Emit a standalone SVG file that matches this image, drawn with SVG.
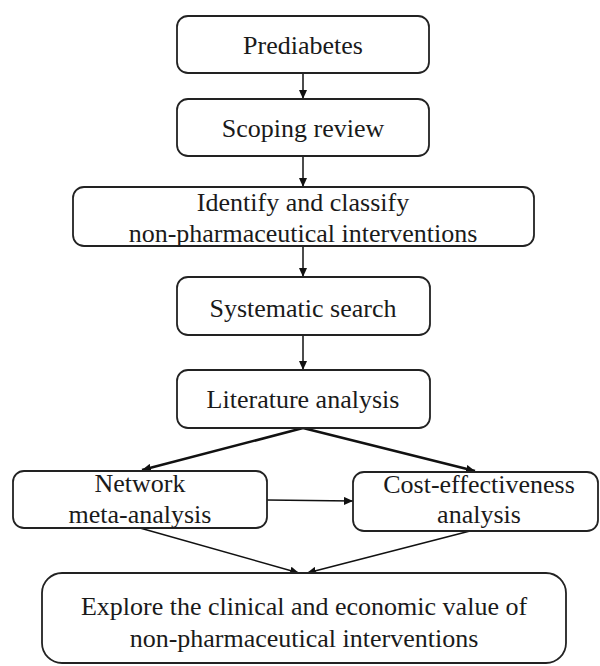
<svg xmlns="http://www.w3.org/2000/svg" width="600" height="666" viewBox="0 0 600 666">
<style>
.box{fill:#fff;stroke:#222;stroke-width:1.8}
.t{font-family:"Liberation Serif","Times New Roman",serif;font-size:26px;fill:#1a1a1a;text-anchor:middle}
.c{stroke:#111;stroke-width:1.5;fill:none}
.ct{stroke:#111;stroke-width:2.6;fill:none}
</style>
<defs>
<marker id="ah" markerUnits="userSpaceOnUse" markerWidth="10" markerHeight="8" refX="9" refY="4" orient="auto">
<path d="M0,0 L9,4 L0,8 Z" fill="#111"/>
</marker>
</defs>
<rect width="600" height="666" fill="#fff"/>
<g id="connectors">
<line class="c" x1="303" y1="73" x2="303" y2="99" marker-end="url(#ah)"/>
<line class="c" x1="303" y1="156" x2="303" y2="187" marker-end="url(#ah)"/>
<line class="c" x1="303" y1="246" x2="303" y2="277" marker-end="url(#ah)"/>
<line class="c" x1="303" y1="335" x2="303" y2="370" marker-end="url(#ah)"/>
<line class="ct" x1="303" y1="428" x2="142" y2="470" marker-end="url(#ah)"/>
<line class="ct" x1="303" y1="428" x2="475" y2="471" marker-end="url(#ah)"/>
<line class="c" x1="267" y1="500" x2="353" y2="501" marker-end="url(#ah)"/>
<line class="c" x1="140" y1="528" x2="299" y2="573" marker-end="url(#ah)"/>
<line class="c" x1="470" y1="531" x2="307" y2="573" marker-end="url(#ah)"/>
</g>
<g id="n1"><rect class="box" x="177" y="16" width="252" height="57" rx="11"/><text class="t" x="303" y="54">Prediabetes</text></g>
<g id="n2"><rect class="box" x="177" y="99" width="252" height="57" rx="11"/><text class="t" x="303" y="137">Scoping review</text></g>
<g id="n3"><rect class="box" x="73" y="187" width="461" height="59" rx="11"/><text class="t" x="303" y="211">Identify and classify</text><text class="t" x="303" y="242">non-pharmaceutical interventions</text></g>
<g id="n4"><rect class="box" x="177" y="277" width="253" height="58" rx="11"/><text class="t" x="303" y="317">Systematic search</text></g>
<g id="n5"><rect class="box" x="177" y="370" width="253" height="58" rx="11"/><text class="t" x="303" y="408">Literature analysis</text></g>
<g id="n6"><rect class="box" x="13" y="471" width="254" height="57" rx="11"/><text class="t" x="140" y="492">Network</text><text class="t" x="140" y="523">meta-analysis</text></g>
<g id="n7"><rect class="box" x="353" y="472" width="245" height="59" rx="11"/><text class="t" x="479" y="493">Cost-effectiveness</text><text class="t" x="479" y="523">analysis</text></g>
<g id="n8"><rect class="box" x="42" y="573" width="524" height="90" rx="20"/><text class="t" x="304" y="615">Explore the clinical and economic value of</text><text class="t" x="304" y="647">non-pharmaceutical interventions</text></g>
</svg>
